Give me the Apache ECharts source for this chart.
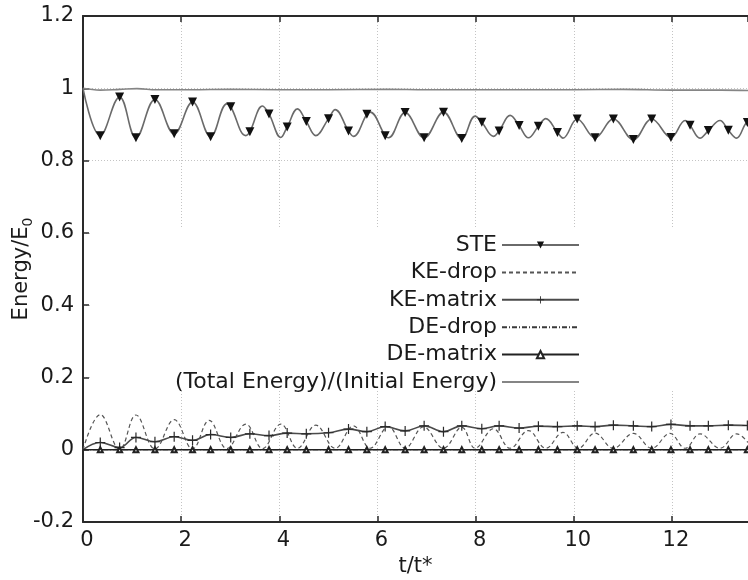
<!DOCTYPE html>
<html><head><meta charset="utf-8">
<script src="https://cdn.jsdelivr.net/npm/echarts@6/dist/echarts.min.js"></script>
<style>html,body{margin:0;padding:0;background:#fff}#c{width:748px;height:580px}</style>
</head><body><div id="c"></div>
<script>
// ---------- data ----------
const seriesNames = ['STE', 'KE-drop', 'KE-matrix', 'DE-drop', 'DE-matrix', '(Total Energy)/(Initial Energy)'];

// STE: curve extrema (no marker) + marked samples
const steCurveT = [0, 2.931, 3.318, 3.658, 4.031, 4.371, 4.743, 5.138, 5.511, 5.851, 6.225, 7.99, 8.363, 8.703, 9.076, 9.43, 9.78, 12.27, 12.572, 12.98, 13.32, 13.55];
const steCurveV = [1.0, 0.957, 0.869, 0.951, 0.864, 0.943, 0.869, 0.941, 0.867, 0.934, 0.863, 0.923, 0.867, 0.925, 0.863, 0.916, 0.862, 0.911, 0.862, 0.911, 0.862, 0.902];
const markT = [0.352, 0.746, 1.079, 1.466, 1.858, 2.232, 2.600, 3.010, 3.400, 3.790, 4.160, 4.550, 5.003, 5.410, 5.784, 6.157, 6.564, 6.951, 7.345, 7.718, 8.126, 8.479, 8.886, 9.279, 9.667, 10.070, 10.434, 10.807, 11.214, 11.588, 11.980, 12.369, 12.742, 13.149, 13.537];
const steMarkV = [0.869, 0.976, 0.863, 0.969, 0.874, 0.962, 0.866, 0.949, 0.880, 0.929, 0.893, 0.908, 0.916, 0.882, 0.928, 0.869, 0.933, 0.863, 0.934, 0.861, 0.906, 0.882, 0.897, 0.895, 0.878, 0.915, 0.863, 0.915, 0.858, 0.915, 0.864, 0.898, 0.883, 0.884, 0.905];

// KE-drop (dashed, no markers)
const keDropT = [0, 0.352, 0.746, 1.079, 1.466, 1.858, 2.232, 2.571, 2.931, 3.318, 3.658, 4.031, 4.371, 4.743, 5.138, 5.511, 5.851, 6.225, 6.564, 6.937, 7.345, 7.718, 7.99, 8.363, 8.703, 9.076, 9.43, 9.78, 10.094, 10.434, 10.807, 11.214, 11.588, 11.96, 12.27, 12.572, 12.98, 13.32, 13.55];
const keDropV = [0, 0.097, 0.001, 0.096, 0.002, 0.083, 0.002, 0.081, 0.003, 0.071, 0.003, 0.071, 0.004, 0.068, 0.004, 0.066, 0.004, 0.064, 0.004, 0.063, 0.004, 0.062, 0.004, 0.058, 0.004, 0.053, 0.004, 0.048, 0.004, 0.046, 0.004, 0.045, 0.004, 0.045, 0.004, 0.044, 0.004, 0.044, 0.020];

// KE-matrix (marked at markT)
const keMatrixV = [0.020, 0.006, 0.034, 0.022, 0.036, 0.026, 0.042, 0.034, 0.044, 0.039, 0.046, 0.044, 0.047, 0.057, 0.050, 0.064, 0.052, 0.066, 0.050, 0.066, 0.058, 0.066, 0.060, 0.065, 0.064, 0.066, 0.064, 0.068, 0.066, 0.064, 0.070, 0.066, 0.066, 0.068, 0.067];

// DE-drop (flat)
const deDropT = [0, 13.55];
const deDropV = [0, 0];

// DE-matrix (marked at markT)
const deMatrixV = [0, 0, 0, 0, 0, 0, 0, 0, 0, 0, 0, 0, 0, 0, 0, 0, 0, 0, 0, 0, 0, 0, 0, 0, 0, 0, 0, 0, 0, 0, 0, 0, 0, 0, 0];

// Total energy ratio
const totalT = [0, 0.35, 0.75, 1.1, 1.5, 2.2, 3.0, 4.0, 5.0, 6.2, 7.0, 8.0, 9.0, 10.0, 11.0, 12.0, 13.0, 13.55];
const totalV = [1.0, 0.995, 0.997, 0.999, 0.996, 0.996, 0.997, 0.996, 0.996, 0.997, 0.996, 0.996, 0.996, 0.996, 0.997, 0.995, 0.995, 0.994];

// ---------- build ----------
function merged(curveT, curveV, mT, mV) {
  const pts = [];
  curveT.forEach((t, i) => pts.push({ value: [t, curveV[i]], symbol: 'none' }));
  mT.forEach((t, i) => pts.push({ value: [t, mV[i]] }));
  pts.sort((a, b) => a.value[0] - b.value[0]);
  return pts;
}
function plain(T, V) { return T.map((t, i) => [t, V[i]]); }

const FONT = 'DejaVu Sans';
const TXT = '#1a1a1a';
const AX = '#2a2a2a';
const plusPath = 'path://M4.4,0 H5.6 V4.4 H10 V5.6 H5.6 V10 H4.4 V5.6 H0 V4.4 H4.4 Z';
const noSymbolNames = ['KE-drop', 'DE-drop', '(Total Energy)/(Initial Energy)'];

const chart = echarts.init(document.getElementById('c'), null, { renderer: 'canvas' });
chart.setOption({
  animation: false,
  backgroundColor: '#fff',
  grid: { left: 83, right: 0, top: 16, bottom: 58, containLabel: false, outerBoundsMode: 'none' },
  graphic: [{
    type: 'rect', z: 1, silent: true,
    shape: { x: 91, y: 229, width: 657, height: 162 },
    style: { fill: '#fff' }
  }],
  legend: {
    orient: 'vertical', align: 'right', right: 163, top: 229,
    itemWidth: 77, itemHeight: 9, itemGap: 5.4, selectedMode: false,
    textStyle: { fontFamily: FONT, fontSize: 22, lineHeight: 22, color: TXT },
    data: seriesNames.map(n => noSymbolNames.indexOf(n) >= 0
      ? { name: n, itemStyle: { opacity: 0 } } : { name: n })
  },
  xAxis: [{
    type: 'value', min: 0, max: 13.55, interval: 2, position: 'bottom',
    name: 't/t*', nameLocation: 'middle', nameGap: 34, nameMoveOverlap: false,
    nameTextStyle: { fontFamily: FONT, fontSize: 21, color: TXT },
    axisLine: { show: true, onZero: false, lineStyle: { color: AX, width: 2 } },
    axisTick: { show: true, inside: true, length: 6, lineStyle: { color: AX, width: 1.5 } },
    axisLabel: { fontFamily: FONT, fontSize: 21, color: TXT, margin: 8, showMaxLabel: false, padding: [0, 0, 0, 8] },
    splitLine: { show: true, showMinLine: false, showMaxLine: false, lineStyle: { color: '#c4c4c4', width: 1, type: [1, 2] } }
  }, {
    type: 'value', min: 0, max: 13.55, interval: 2, position: 'top',
    axisLine: { show: true, onZero: false, lineStyle: { color: AX, width: 2 } },
    axisTick: { show: true, inside: true, length: 6, lineStyle: { color: AX, width: 1.5 } },
    axisLabel: { show: false }, splitLine: { show: false }
  }],
  yAxis: {
    type: 'value', min: -0.2, max: 1.2, interval: 0.2,
    name: '{a|Energy/E}{b|0}', nameLocation: 'middle', nameGap: 48, nameMoveOverlap: false,
    nameTextStyle: {
      fontFamily: FONT, fontSize: 21, color: TXT,
      rich: { a: { fontFamily: FONT, fontSize: 21, color: TXT },
              b: { fontFamily: FONT, fontSize: 14, color: TXT, padding: [12, 0, 0, 0] } }
    },
    axisLine: { show: true, onZero: false, lineStyle: { color: AX, width: 2 } },
    axisTick: { show: true, inside: true, length: 6, lineStyle: { color: AX, width: 1.5 } },
    axisLabel: { fontFamily: FONT, fontSize: 21, color: TXT, margin: 9 },
    splitLine: { show: true, showMinLine: false, showMaxLine: false, lineStyle: { color: '#c4c4c4', width: 1, type: [1, 2] } }
  },
  series: [
    { name: 'STE', type: 'line', smooth: 0.4, showAllSymbol: true, z: 5,
      symbol: 'triangle', symbolRotate: 180, symbolSize: 9,
      lineStyle: { color: '#6a6a6a', width: 1.6 }, itemStyle: { color: '#111' },
      data: merged(steCurveT, steCurveV, markT, steMarkV) },
    { name: 'KE-drop', type: 'line', smooth: 0.4, symbol: 'none', z: 3,
      lineStyle: { color: '#555', width: 1.2, type: [4, 3] }, itemStyle: { color: '#555' },
      data: plain(keDropT, keDropV) },
    { name: 'KE-matrix', type: 'line', smooth: 0.4, showAllSymbol: true, z: 4,
      symbol: plusPath, symbolSize: 10,
      lineStyle: { color: '#4a4a4a', width: 1.6 }, itemStyle: { color: '#2a2a2a' },
      data: merged([0], [0], markT, keMatrixV) },
    { name: 'DE-drop', type: 'line', symbol: 'none', z: 3,
      lineStyle: { color: '#3a3a3a', width: 1.2, type: [5, 2, 1, 2] }, itemStyle: { color: '#3a3a3a' },
      data: plain(deDropT, deDropV) },
    { name: 'DE-matrix', type: 'line', showAllSymbol: true, z: 4,
      symbol: 'emptyTriangle', symbolSize: 5,
      lineStyle: { color: '#222', width: 1.6 }, itemStyle: { color: '#222', borderWidth: 1 },
      data: merged([0, 13.55], [0, 0], markT, deMatrixV) },
    { name: '(Total Energy)/(Initial Energy)', type: 'line', smooth: 0.4, symbol: 'none', z: 3,
      lineStyle: { color: '#858585', width: 1.6 }, itemStyle: { color: '#858585' },
      data: plain(totalT, totalV) }
  ]
});
</script></body></html>
